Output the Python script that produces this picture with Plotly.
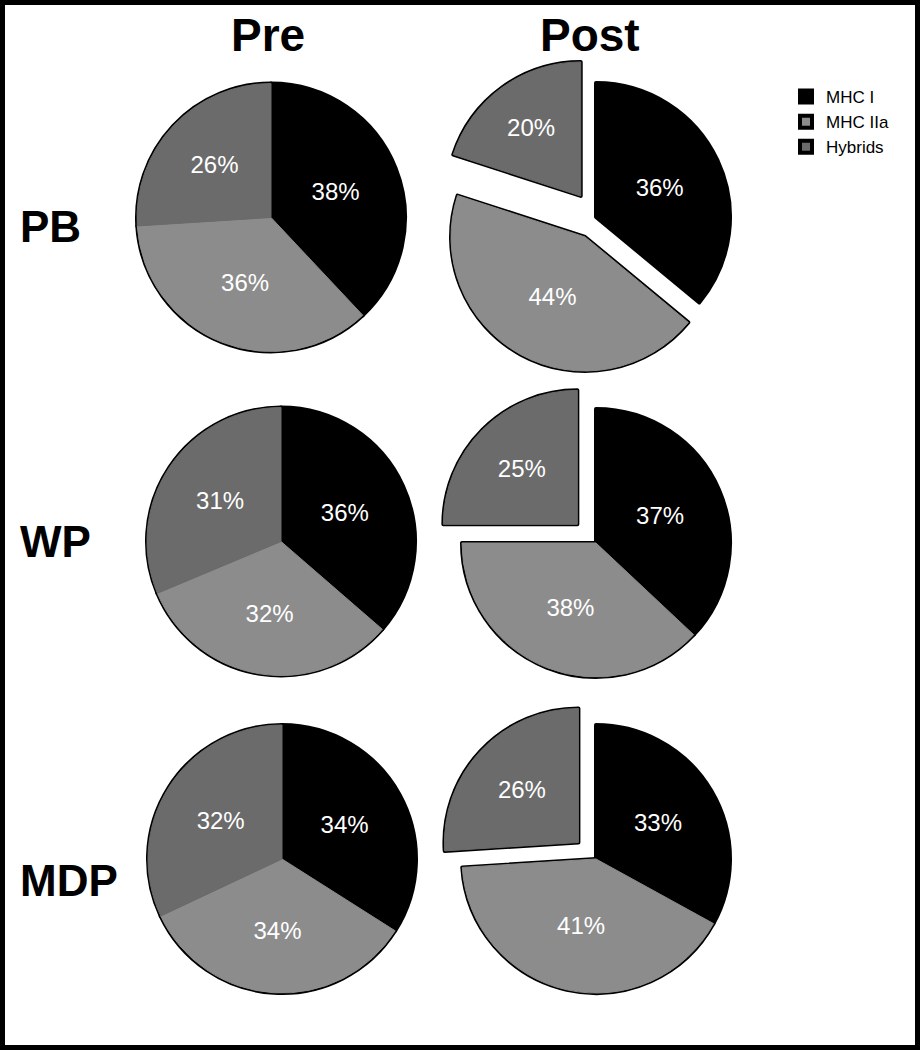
import plotly.graph_objects as go

W, H = 920, 1050

categories = ["MHC I", "MHC IIa", "Hybrids"]
colors = ["#000000", "#8c8c8c", "#6b6b6b"]

pre_pb = [38, 36, 26]
post_pb = [36, 44, 20]
pre_wp = [36, 32, 31]
post_wp = [37, 38, 25]
pre_mdp = [34, 34, 32]
post_mdp = [33, 41, 26]

pull_post_pb = [0, 0.17, 0.194]
pull_post_wp = [0, 0, 0.197]
pull_post_mdp = [0, 0, 0.18]

col_titles = ["Pre", "Post"]
row_titles = ["PB", "WP", "MDP"]

# pie layout: (values, pull, center_x_px, center_y_px, radius_px)
pies = [
    (pre_pb, [0, 0, 0], 271, 217.5, 134),
    (post_pb, pull_post_pb, 596, 217, 134),
    (pre_wp, [0, 0, 0], 281, 541.5, 134),
    (post_wp, pull_post_wp, 596, 543, 134),
    (pre_mdp, [0, 0, 0], 282, 859, 134),
    (post_mdp, pull_post_mdp, 596, 859, 134),
]

fig = go.Figure()
first = True
for vals, pull, cx, cy, r in pies:
    half = r * (1 + max(pull))
    dom = dict(x=[(cx - half) / W, (cx + half) / W],
               y=[1 - (cy + half) / H, 1 - (cy - half) / H])
    # outline layer
    fig.add_trace(go.Pie(
        labels=categories, values=vals, pull=pull, sort=False,
        direction="clockwise", rotation=0, domain=dom,
        marker=dict(colors=colors, line=dict(color="#000000", width=4)),
        textinfo="none", hoverinfo="skip", showlegend=first,
    ))
    # fill layer with labels
    fig.add_trace(go.Pie(
        labels=categories, values=vals, pull=pull, sort=False,
        direction="clockwise", rotation=0, domain=dom,
        marker=dict(colors=colors, line=dict(color=colors, width=1)),
        texttemplate="%{value}%", textposition="inside",
        insidetextorientation="horizontal",
        textfont=dict(family="Liberation Sans, Arial", size=24, color="white"),
        hoverinfo="skip", showlegend=False,
    ))
    first = False

annotations = []
for t, x in zip(col_titles, [268, 590]):
    annotations.append(dict(text="<b>%s</b>" % t, x=x / W, y=1 - 35 / H, xref="paper", yref="paper",
                            showarrow=False, xanchor="center", yanchor="middle",
                            font=dict(family="Liberation Sans, Arial", size=46, color="black")))
for t, y in zip(row_titles, [227, 541, 880]):
    annotations.append(dict(text="<b>%s</b>" % t, x=18 / W, y=1 - y / H, xref="paper", yref="paper",
                            showarrow=False, xanchor="left", yanchor="middle",
                            font=dict(family="Liberation Sans, Arial", size=44, color="black")))

fig.update_layout(
    width=W, height=H,
    margin=dict(l=0, r=0, t=0, b=0),
    paper_bgcolor="white", plot_bgcolor="white",
    annotations=annotations,
    legend=dict(x=786 / W, y=1 - 79 / H, xanchor="left", yanchor="top",
                font=dict(family="Liberation Sans, Arial", size=17, color="black"),
                bgcolor="rgba(0,0,0,0)", traceorder="normal"),
    shapes=[dict(type="rect", xref="paper", yref="paper", x0=0, y0=0, x1=1, y1=1,
                 line=dict(color="black", width=10), fillcolor="rgba(0,0,0,0)")],
)

fig.write_html("out.html",
               config={"displayModeBar": False},
               post_script="document.body.style.margin='0';document.body.style.overflow='hidden';")
